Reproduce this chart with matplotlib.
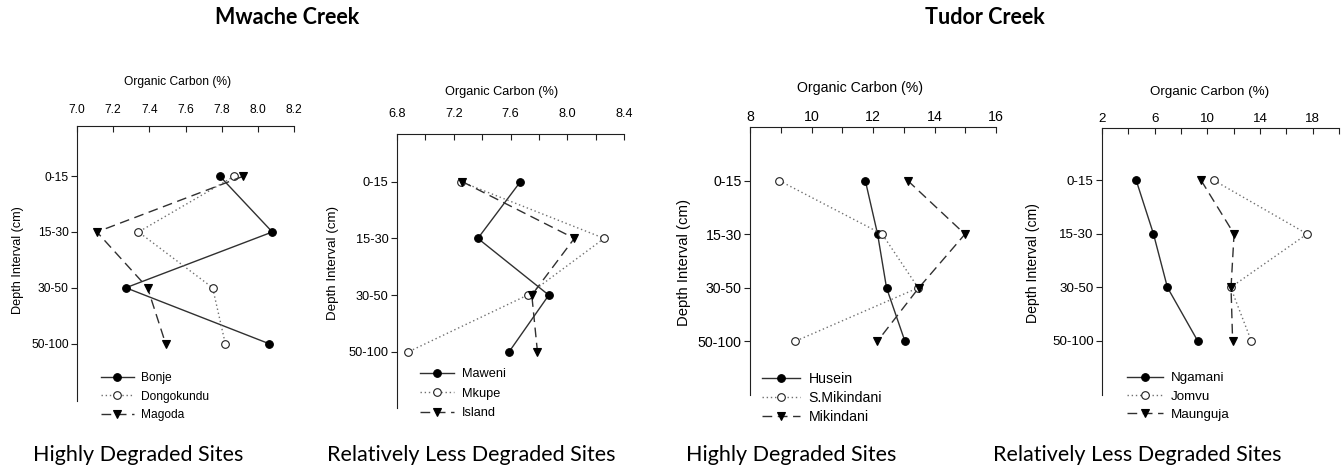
import numpy as np
import matplotlib.pyplot as plt
from matplotlib import font_manager

# ================= data =================
depths = ['0-15', '15-30', '30-50', '50-100']

# Mwache Creek - highly degraded
bonje = [7.79, 8.08, 7.27, 8.06]
dongokundu = [7.87, 7.34, 7.75, 7.82]
magoda = [7.92, 7.11, 7.39, 7.49]

# Mwache Creek - relatively less degraded
maweni = [7.67, 7.37, 7.87, 7.59]
mkupe = [7.25, 8.26, 7.72, 6.88]
island = [7.26, 8.05, 7.75, 7.79]

# Tudor Creek - highly degraded
husein = [11.75, 12.15, 12.44, 13.04]
s_mikindani = [8.95, 12.30, 13.47, 9.46]
mikindani = [13.13, 14.99, 13.49, 12.14]

# Tudor Creek - relatively less degraded
ngamani = [4.60, 5.91, 6.97, 9.27]
jomvu = [10.51, 17.58, 11.77, 13.34]
maunguja = [9.53, 12.03, 11.80, 11.92]

W, H = 1342, 470
C_FONT = 'Lato'

# R-style panels use a narrow sans if it is there
names_avail = {f.name for f in font_manager.fontManager.ttflist}
if 'Liberation Sans Narrow' in names_avail:
    R_FONT, SC = 'Liberation Sans Narrow', 1.0
else:
    R_FONT, SC = 'Liberation Sans', 0.85

fig = plt.figure(figsize=(W / 100, H / 100), dpi=100)


def fx(px):
    return px / W


def fy(py):
    return 1 - py / H


def panel(box, xlim, ylim, major, minor, series, names, fs, pad,
          xlab_xy, ylab_xy, leg_xy, leg_sp):
    fs = fs * SC
    left, right, top, bottom = box
    ax = fig.add_axes([fx(left), fy(bottom), fx(right - left), (bottom - top) / H])
    ypos = np.arange(1, len(depths) + 1)
    styles = [
        dict(ls='-', color='#303030', marker='o', mfc='black', mec='black'),
        dict(ls=(0, (1, 2)), color='#707070', marker='o', mfc='white', mec='#202020'),
        dict(ls=(0, (7, 4)), color='#303030', marker='v', mfc='black', mec='black'),
    ]
    for vals, name, st in zip(series, names, styles):
        ax.plot(vals, ypos, lw=1.0, ms=5.5, mew=0.8, label=name, **st)

    ax.set_xlim(*xlim)
    ax.set_ylim(*ylim)
    ax.xaxis.tick_top()
    ax.set_xticks(minor, minor=True)
    ax.set_xticks(major)
    if all(float(v).is_integer() for v in major):
        labels = ['%d' % v for v in major]
    else:
        labels = ['%.1f' % v for v in major]
    ax.set_xticklabels(labels, fontsize=fs, family=R_FONT)
    ax.set_yticks(ypos)
    ax.set_yticklabels(depths, fontsize=fs, family=R_FONT)
    ax.tick_params(axis='x', which='both', direction='in', length=4, width=0.8, pad=pad, color='#202020')
    ax.tick_params(axis='y', direction='out', length=4, width=0.8, pad=2, color='#202020')
    for s in ['right', 'bottom']:
        ax.spines[s].set_visible(False)
    for s in ['left', 'top']:
        ax.spines[s].set_linewidth(0.8)
        ax.spines[s].set_color('#202020')
    ax.set_facecolor('none')

    fig.text(fx(xlab_xy[0]), fy(xlab_xy[1]), 'Organic Carbon (%)', ha='center', va='center',
             fontsize=fs, family=R_FONT)
    fig.text(fx(ylab_xy[0]), fy(ylab_xy[1]), 'Depth Interval (cm)', ha='center', va='center',
             rotation=90, fontsize=fs * 1.05, family=R_FONT)

    ax.legend(loc='upper left', bbox_to_anchor=(fx(leg_xy[0]), fy(leg_xy[1])),
              bbox_transform=fig.transFigure, frameon=False, borderpad=0, borderaxespad=0,
              handlelength=2.7, handletextpad=0.6, labelspacing=leg_sp,
              prop={'family': R_FONT, 'size': fs})
    return ax


panel((77, 294, 126, 401), (7.0, 8.2), (5.03, 0.1),
      [7.0, 7.2, 7.4, 7.6, 7.8, 8.0, 8.2], [],
      [bonje, dongokundu, magoda], ['Bonje', 'Dongokundu', 'Magoda'],
      10.2, 7, (178, 82), (18, 260), (101, 372), 0.55)

panel((397, 624, 134, 408), (6.8, 8.4), (4.99, 0.16),
      [6.8, 7.2, 7.6, 8.0, 8.4], [7.0, 7.4, 7.8, 8.2],
      [maweni, mkupe, island], ['Maweni', 'Mkupe', 'Island'],
      10.8, 10, (502, 92), (333, 263), (420, 368), 0.6)

panel((750, 996, 127, 395), (8, 16), (5.0, 0.0),
      [8, 10, 12, 14, 16], [9, 11, 13, 15],
      [husein, s_mikindani, mikindani], ['Husein', 'S.Mikindani', 'Mikindani'],
      12, 2, (860, 88), (684, 263), (762, 372), 0.34)

panel((1102, 1339, 128, 395), (2, 20), (5.01, 0.02),
      [2, 6, 10, 14, 18], [4, 8, 12, 16, 20],
      [ngamani, jomvu, maunguja], ['Ngamani', 'Jomvu', 'Maunguja'],
      11.3, 2, (1210, 92), (1033, 263), (1127, 372), 0.45)

# creek titles
fig.text(fx(287), fy(18), 'Mwache Creek', ha='center', va='center',
         fontsize=15.5, fontweight='bold', family=C_FONT)
fig.text(fx(985), fy(18), 'Tudor Creek', ha='center', va='center',
         fontsize=15.5, fontweight='bold', family=C_FONT)

# site group captions
for x0, txt in [(33, 'Highly Degraded Sites'), (327, 'Relatively Less Degraded Sites'),
                (686, 'Highly Degraded Sites'), (993, 'Relatively Less Degraded Sites')]:
    fig.text(fx(x0), fy(455), txt, ha='left', va='center', fontsize=15.5, family=C_FONT)

fig.savefig('out.png', dpi=100)
